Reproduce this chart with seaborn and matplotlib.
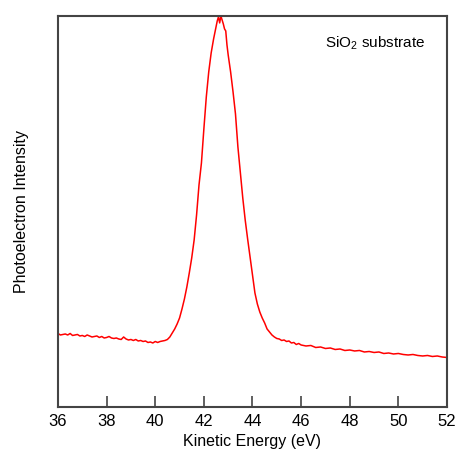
import pandas as pd
import matplotlib.pyplot as plt
import seaborn as sns

# === Spectrum (arbitrary intensity units) ===
energy_left = [36.0, 36.1, 36.2, 36.3, 36.4, 36.5, 36.6, 36.7, 36.8, 36.9,
               37.0, 37.1, 37.2, 37.3, 37.4, 37.5, 37.6, 37.7, 37.8, 37.9,
               38.0, 38.1, 38.2, 38.3, 38.4, 38.5, 38.6, 38.7, 38.8, 38.9,
               39.0, 39.1, 39.2, 39.3, 39.4, 39.5, 39.6, 39.7, 39.8, 39.9,
               40.0, 40.1, 40.2, 40.3, 40.4, 40.5]
counts_left = [73.5, 72.0, 72.5, 73.0, 72.0, 73.5, 71.5, 72.0, 72.5, 71.0,
               71.5, 70.5, 72.0, 71.0, 70.0, 70.5, 71.0, 69.5, 70.5, 69.0,
               69.5, 70.5, 69.0, 68.5, 69.0, 68.0, 67.5, 70.0, 68.0, 67.0,
               67.5, 66.5, 67.5, 66.0, 66.5, 65.5, 66.0, 64.5, 65.0, 64.0,
               65.5, 64.5, 65.5, 66.0, 66.5, 67.5]

energy_peak = [40.6, 40.7, 40.8, 40.9, 41.0, 41.1, 41.2, 41.3, 41.4, 41.5,
               41.6, 41.7, 41.8, 41.9, 42.0, 42.1, 42.2, 42.3, 42.4, 42.5,
               42.55, 42.6, 42.65, 42.7, 42.75, 42.8, 42.85, 42.9, 42.95, 43.0,
               43.1, 43.2, 43.3, 43.4, 43.5, 43.6, 43.7, 43.8, 43.9, 44.0,
               44.1, 44.2, 44.3, 44.4, 44.5, 44.6, 44.7, 44.8, 44.9, 45.0]
counts_peak = [70.0, 74.0, 78.0, 83.0, 89.0, 98.0, 108.0, 120.0, 134.0, 149.0,
               167.0, 192.0, 222.0, 244.0, 278.0, 310.0, 335.0, 354.0, 368.0, 380.0,
               386.0, 390.0, 384.0, 391.0, 387.0, 383.0, 378.0, 376.0, 362.0, 352.0,
               335.0, 315.0, 293.0, 260.0, 234.0, 209.0, 187.0, 168.0, 150.0, 132.0,
               114.0, 103.0, 95.0, 89.0, 84.0, 78.0, 75.0, 72.0, 70.0, 68.5]

energy_right = [45.1, 45.2, 45.3, 45.4, 45.5, 45.6, 45.7, 45.8, 45.9, 46.0,
                46.2, 46.4, 46.6, 46.8, 47.0, 47.2, 47.4, 47.6, 47.8, 48.0,
                48.2, 48.4, 48.6, 48.8, 49.0, 49.2, 49.4, 49.6, 49.8, 50.0,
                50.2, 50.4, 50.6, 50.8, 51.0, 51.2, 51.4, 51.6, 51.8, 52.0]
counts_right = [68.0, 66.5, 67.0, 65.5, 66.0, 64.0, 64.5, 62.5, 63.5, 62.0,
                61.0, 61.5, 59.5, 60.0, 58.5, 59.0, 57.5, 58.0, 56.5, 57.0,
                56.0, 56.5, 55.0, 55.5, 54.5, 55.0, 53.5, 54.0, 53.0, 53.5,
                52.5, 52.0, 52.5, 51.5, 51.0, 51.5, 50.5, 51.0, 50.0, 49.5]

xticks = [36, 38, 40, 42, 44, 46, 48, 50, 52]

df = pd.DataFrame({
    'energy': energy_left + energy_peak + energy_right,
    'counts': counts_left + counts_peak + counts_right,
})

sns.set_style('ticks')
plt.rcParams['font.family'] = ['Liberation Sans', 'DejaVu Sans']
plt.rcParams['mathtext.fontset'] = 'custom'
plt.rcParams['mathtext.rm'] = 'Liberation Sans'

fig = plt.figure(figsize=(4.58, 4.55), dpi=100)
ax = fig.add_axes([0.1266, 0.1055, 0.8494, 0.8595])

sns.lineplot(data=df, x='energy', y='counts', color='red', linewidth=1.1,
             ax=ax, sort=False)

ax.set_xlim(36, 52)
ax.set_ylim(0, max(df['counts']))
ax.set_xticks(xticks)
ax.set_xticklabels([str(t) for t in xticks])
ax.set_yticks([])
ax.tick_params(axis='x', direction='in', length=8, width=1.2, color='#444444',
               labelsize=12, pad=5, labelcolor='black')
for sp in ax.spines.values():
    sp.set_visible(True)
    sp.set_color('#444444')
    sp.set_linewidth(1.5)

ax.set_xlabel('Kinetic Energy (eV)', fontsize=11.5, labelpad=4, color='black')
ax.set_ylabel('Photoelectron Intensity', fontsize=11.5, labelpad=21, color='black')
ax.text(0.686, 0.931, r'SiO$_\mathrm{2}$ substrate', transform=ax.transAxes,
        fontsize=11, va='center', ha='left', color='black')

plt.savefig('out.png', dpi=100)
